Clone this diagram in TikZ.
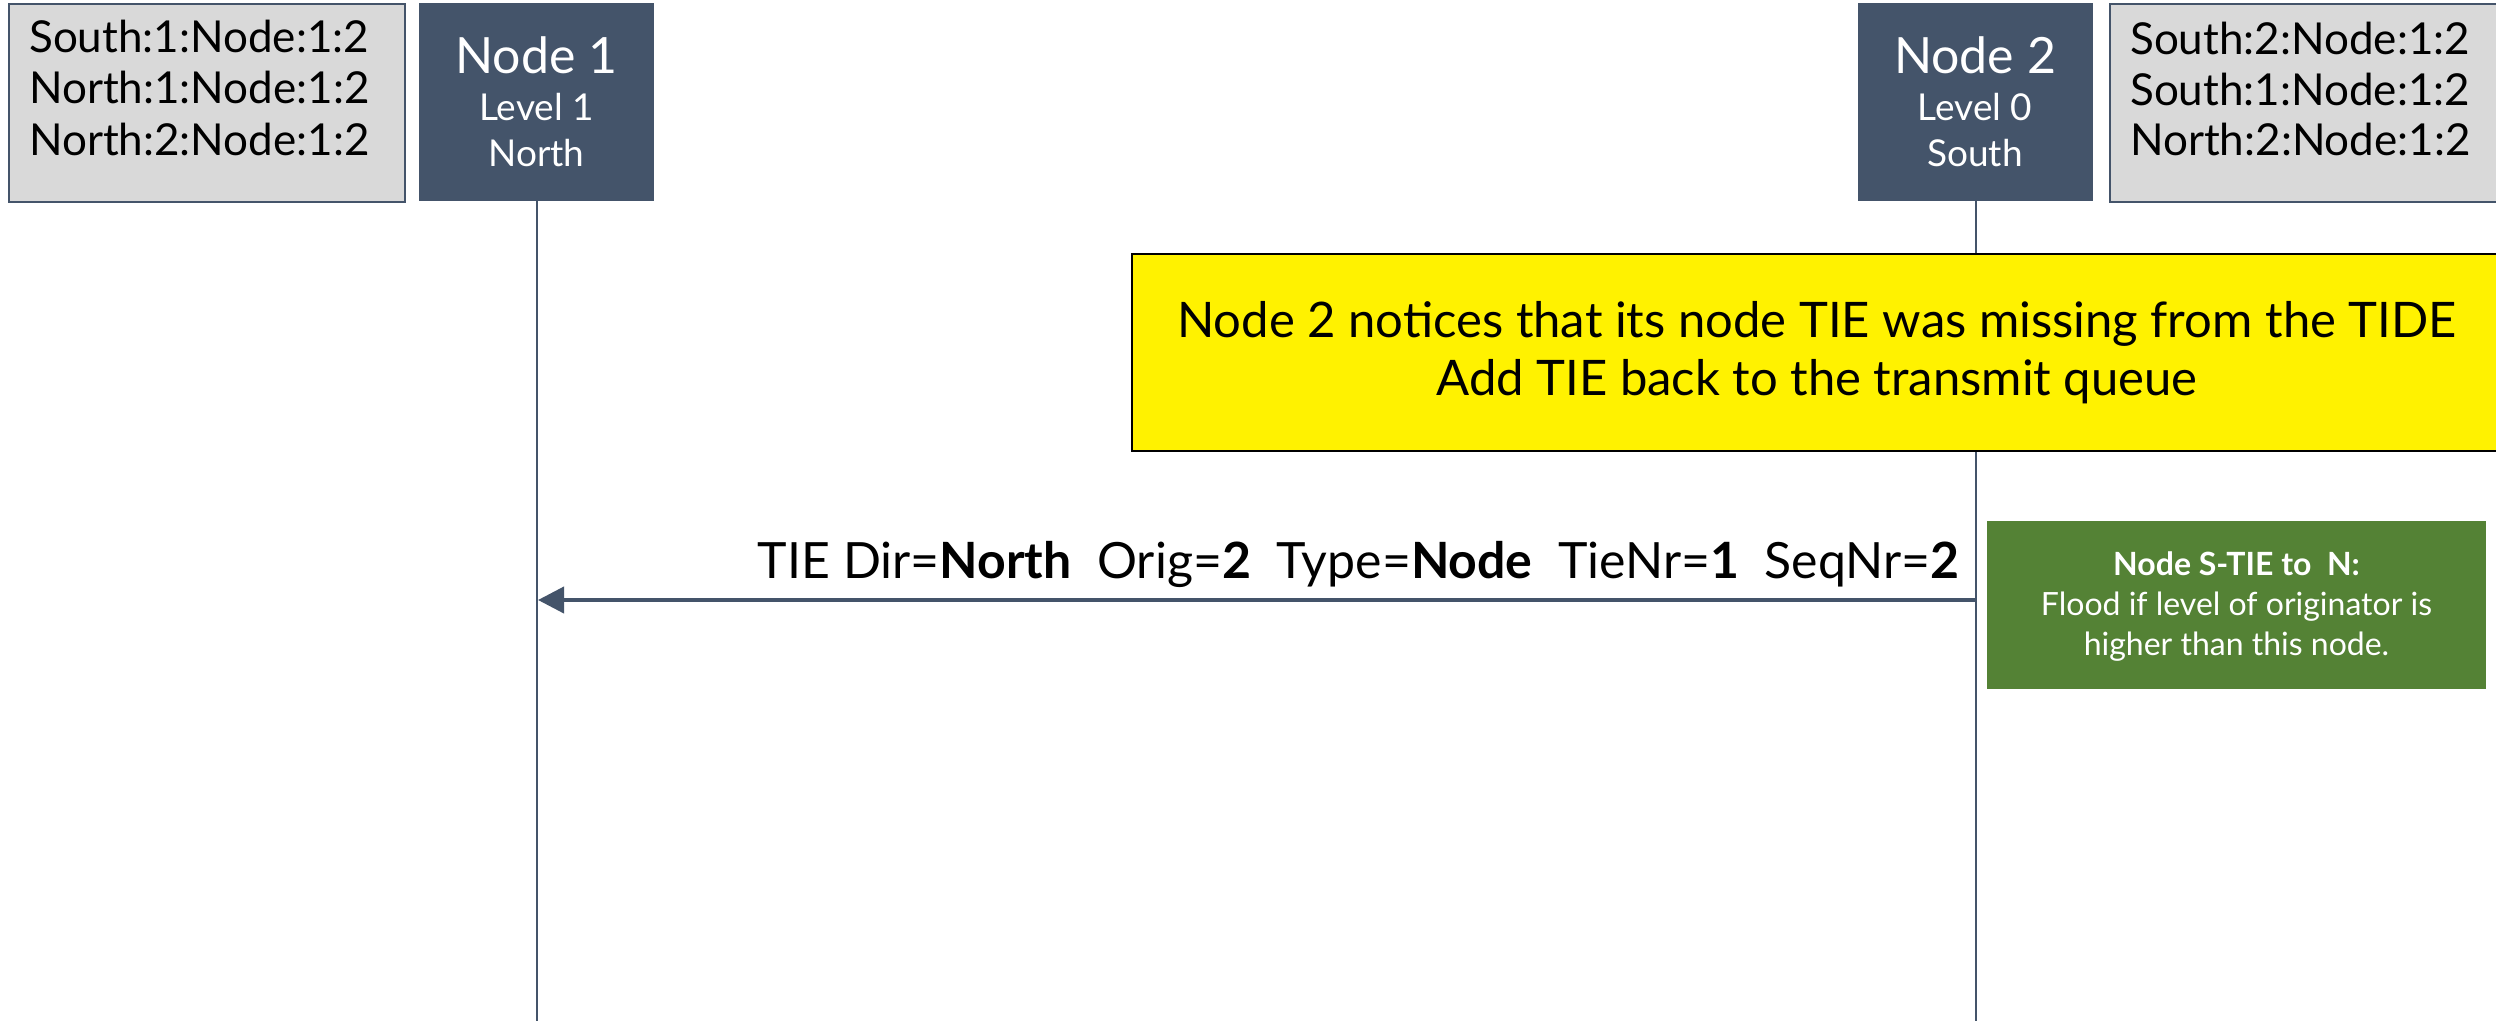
\documentclass[tikz,border=0pt]{standalone}
\usepackage{fontspec}
\setmainfont{Lato}
\usetikzlibrary{arrows.meta}
\definecolor{slate}{HTML}{44546A}
\definecolor{lightgray}{HTML}{D9D9D9}
\definecolor{leaf}{HTML}{548235}
\newcommand{\fs}[1]{\fontsize{#1}{#1}\selectfont}
\tikzset{
  nodebox/.style={draw=none, fill=slate, minimum width=235pt, minimum height=198pt, inner sep=0pt, anchor=north west},
  dbbox/.style={draw=slate, line width=1.6pt, fill=lightgray, minimum height=198pt, inner sep=0pt, anchor=north west},
  lifeline/.style={draw=slate, line width=1.8pt},
  msg/.style={draw=slate, line width=4pt, -{Triangle[width=26pt,length=26pt]}},
  dbtext/.style={anchor=base west, inner sep=0pt, font=\fs{44}},
  titletext/.style={anchor=base, inner sep=0pt, text=white, font=\fs{50}},
  subtext/.style={anchor=base, inner sep=0pt, text=white, font=\fs{37}},
  notetext/.style={anchor=base, inner sep=0pt, font=\fs{49}},
  greentext/.style={anchor=base, inner sep=0pt, text=white, font=\fs{32}},
}
\begin{document}
\begin{tikzpicture}[x=1pt,y=-1pt]
\useasboundingbox (0,0) rectangle (2496,1021);
\fill[white] (0,0) rectangle (2496,1021);

% bottom end of the lifelines
\coordinate (bottom) at (0,1021);

% left database box
\node[dbbox, minimum width=396pt] (db1) at (8,3) {};
\node[dbtext] (db1a) at (29,52) {South:1:Node:1:2};
\node[dbtext] (db1b) at (29,103) {North:1:Node:1:2};
\node[dbtext] (db1c) at (29,155) {North:2:Node:1:2};

% node 1 header
\node[nodebox] (n1) at (419,3) {};
\node[titletext] (n1a) at (536.5,73) {Node 1};
\node[subtext] (n1b) at (536.5,120) {Level 1};
\node[subtext] (n1c) at (536.5,166) {North};

% node 2 header
\node[nodebox] (n2) at (1858,3) {};
\node[titletext] (n2a) at (1975,73) {Node 2};
\node[subtext] (n2b) at (1975,120) {Level 0};
\node[subtext] (n2c) at (1975,166) {South};

% right database box (runs past the edge)
\node[dbbox, minimum width=420pt] (db2) at (2109,3) {};
\node[dbtext] (db2a) at (2130,54) {South:2:Node:1:2};
\node[dbtext] (db2b) at (2130,105) {South:1:Node:1:2};
\node[dbtext] (db2c) at (2130,155) {North:2:Node:1:2};

% lifelines
\draw[lifeline] (n1.south) -- (n1.south |- bottom);
\draw[lifeline] (n2.south) -- (n2.south |- bottom);

% yellow note
\node[draw=black, line width=2pt, fill=yellow, minimum width=1400pt, minimum height=197pt, anchor=north west, inner sep=0pt] (note) at (1131,253) {};
\node[notetext] (notea) at (1817,337) {Node 2 notices that its node TIE was missing from the TIDE};
\node[notetext] (noteb) at (1817,395) {Add TIE back to the transmit queue};

% message
\coordinate (m2) at (1975,600);
\coordinate (m1) at (538,600);
\draw[msg] (m2) -- (m1);
\node[anchor=base east, inner sep=0pt, font=\fs{50}] (lbl) at (1960,578)
  {TIE Dir=\textbf{North}\ \ Orig=\textbf{2}\ \ Type=\textbf{Node}\ \ TieNr=\textbf{1}\ \ SeqNr=\textbf{2}};

% green rule box
\node[fill=leaf, minimum width=499pt, minimum height=168pt, anchor=north west, inner sep=0pt] (rule) at (1987,521) {};
\node[greentext] (rulea) at (2236.5,575) {\textbf{Node S-TIE to\ \ N:}};
\node[greentext] (ruleb) at (2236.5,615) {Flood if level of originator is};
\node[greentext] (rulec) at (2236.5,655) {higher than this node.};
\end{tikzpicture}
\end{document}
